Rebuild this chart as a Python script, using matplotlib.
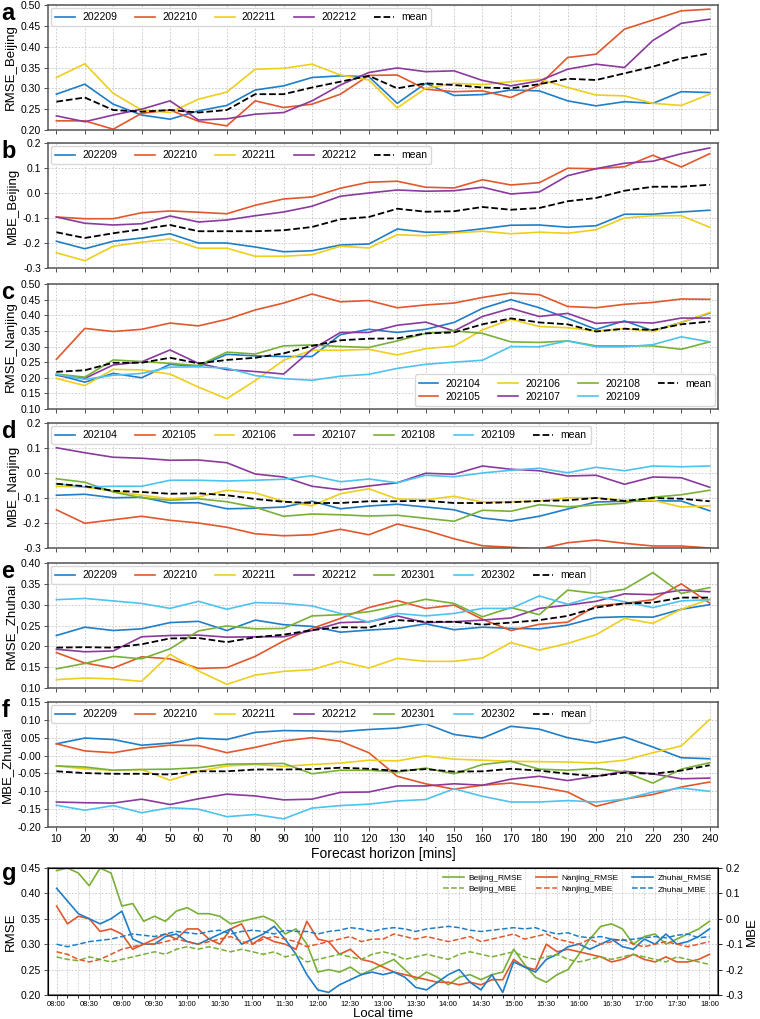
import numpy as np
import matplotlib
matplotlib.use('Agg')
import matplotlib.pyplot as plt
import matplotlib.dates as mdates
import pandas as pd

plt.rcParams['font.family'] = ['Liberation Sans', 'DejaVu Sans']

horizon = [10, 20, 30, 40, 50, 60, 70, 80, 90, 100, 110, 120,
           130, 140, 150, 160, 170, 180, 190, 200, 210, 220, 230, 240]

# Beijing months
bj_months = ['202209', '202210', '202211', '202212']
bj_rmse_202209 = [0.286, 0.310, 0.262, 0.236, 0.226, 0.246, 0.259, 0.296, 0.306, 0.326, 0.330, 0.328,
                  0.264, 0.312, 0.283, 0.285, 0.296, 0.294, 0.270, 0.258, 0.268, 0.264, 0.292, 0.290]
bj_rmse_202210 = [0.222, 0.222, 0.202, 0.240, 0.248, 0.221, 0.210, 0.270, 0.254, 0.262, 0.286, 0.331,
                  0.332, 0.298, 0.292, 0.294, 0.278, 0.308, 0.374, 0.382, 0.442, 0.464, 0.486, 0.490]
bj_rmse_202211 = [0.326, 0.359, 0.288, 0.248, 0.242, 0.274, 0.291, 0.346, 0.348, 0.358, 0.332, 0.320,
                  0.253, 0.300, 0.312, 0.309, 0.316, 0.322, 0.302, 0.284, 0.282, 0.264, 0.259, 0.286]
bj_rmse_202212 = [0.234, 0.220, 0.236, 0.250, 0.270, 0.224, 0.227, 0.238, 0.242, 0.270, 0.308, 0.338,
                  0.349, 0.340, 0.342, 0.319, 0.306, 0.318, 0.346, 0.358, 0.350, 0.415, 0.456, 0.466]
bj_rmse_mean = [0.268, 0.278, 0.248, 0.244, 0.248, 0.242, 0.248, 0.286, 0.286, 0.302, 0.316, 0.330,
                0.300, 0.312, 0.308, 0.302, 0.300, 0.310, 0.323, 0.320, 0.336, 0.352, 0.372, 0.384]

bj_mbe_202209 = [-0.193, -0.223, -0.193, -0.180, -0.163, -0.200, -0.200, -0.216, -0.235, -0.231, -0.208, -0.204,
                 -0.144, -0.157, -0.156, -0.143, -0.129, -0.128, -0.137, -0.131, -0.085, -0.085, -0.076, -0.069]
bj_mbe_202210 = [-0.096, -0.103, -0.103, -0.079, -0.072, -0.077, -0.083, -0.049, -0.024, -0.016, 0.019, 0.043,
                 0.047, 0.023, 0.020, 0.053, 0.032, 0.041, 0.099, 0.097, 0.105, 0.151, 0.104, 0.157]
bj_mbe_202211 = [-0.239, -0.271, -0.213, -0.197, -0.184, -0.221, -0.221, -0.253, -0.253, -0.247, -0.213, -0.220,
                 -0.167, -0.171, -0.160, -0.153, -0.163, -0.157, -0.161, -0.147, -0.100, -0.091, -0.091, -0.137]
bj_mbe_202212 = [-0.096, -0.121, -0.128, -0.123, -0.092, -0.116, -0.108, -0.091, -0.076, -0.053, -0.013, 0.000,
                 0.012, 0.007, 0.009, 0.023, -0.004, 0.004, 0.069, 0.097, 0.119, 0.127, 0.157, 0.180]
bj_mbe_mean = [-0.157, -0.180, -0.161, -0.145, -0.128, -0.153, -0.153, -0.153, -0.149, -0.136, -0.105, -0.096,
               -0.063, -0.075, -0.073, -0.056, -0.067, -0.060, -0.033, -0.020, 0.009, 0.025, 0.025, 0.033]

# Nanjing months
nj_months = ['202104', '202105', '202106', '202107', '202108', '202109']
nj_rmse_202104 = [0.210, 0.186, 0.214, 0.200, 0.243, 0.236, 0.275, 0.270, 0.268, 0.268, 0.338, 0.355,
                  0.345, 0.355, 0.377, 0.422, 0.450, 0.424, 0.390, 0.355, 0.382, 0.350, 0.377, 0.407]
nj_rmse_202105 = [0.259, 0.358, 0.348, 0.355, 0.375, 0.366, 0.387, 0.417, 0.439, 0.468, 0.443, 0.447,
                  0.424, 0.433, 0.439, 0.457, 0.471, 0.466, 0.428, 0.424, 0.435, 0.441, 0.452, 0.451]
nj_rmse_202106 = [0.198, 0.175, 0.227, 0.225, 0.212, 0.170, 0.133, 0.191, 0.256, 0.288, 0.288, 0.291,
                  0.273, 0.293, 0.301, 0.353, 0.387, 0.364, 0.360, 0.350, 0.357, 0.348, 0.377, 0.409]
nj_rmse_202107 = [0.208, 0.198, 0.241, 0.251, 0.289, 0.246, 0.226, 0.220, 0.212, 0.291, 0.345, 0.345,
                  0.368, 0.378, 0.350, 0.396, 0.422, 0.396, 0.406, 0.374, 0.379, 0.375, 0.391, 0.391]
nj_rmse_202108 = [0.212, 0.202, 0.257, 0.252, 0.246, 0.239, 0.282, 0.276, 0.302, 0.305, 0.300, 0.297,
                  0.318, 0.342, 0.350, 0.342, 0.315, 0.313, 0.318, 0.302, 0.302, 0.302, 0.291, 0.315]
nj_rmse_202109 = [0.211, 0.195, 0.208, 0.214, 0.234, 0.235, 0.231, 0.207, 0.197, 0.192, 0.205, 0.211,
                  0.230, 0.243, 0.250, 0.256, 0.300, 0.299, 0.318, 0.299, 0.299, 0.306, 0.331, 0.315]
nj_rmse_mean = [0.219, 0.224, 0.248, 0.248, 0.264, 0.246, 0.257, 0.264, 0.278, 0.302, 0.320, 0.325,
                0.326, 0.342, 0.345, 0.371, 0.390, 0.377, 0.371, 0.348, 0.357, 0.353, 0.371, 0.380]

nj_mbe_202104 = [-0.089, -0.085, -0.099, -0.097, -0.120, -0.119, -0.143, -0.141, -0.136, -0.113, -0.143, -0.132,
                 -0.125, -0.136, -0.147, -0.180, -0.192, -0.173, -0.144, -0.116, -0.113, -0.111, -0.112, -0.151]
nj_mbe_202105 = [-0.147, -0.201, -0.187, -0.173, -0.189, -0.200, -0.217, -0.243, -0.251, -0.247, -0.225, -0.247,
                 -0.204, -0.229, -0.263, -0.291, -0.297, -0.304, -0.279, -0.268, -0.281, -0.292, -0.292, -0.300]
nj_mbe_202106 = [-0.053, -0.056, -0.073, -0.089, -0.103, -0.096, -0.069, -0.080, -0.113, -0.131, -0.083, -0.063,
                 -0.104, -0.107, -0.093, -0.116, -0.115, -0.112, -0.099, -0.099, -0.109, -0.109, -0.136, -0.131]
nj_mbe_202107 = [0.101, 0.081, 0.063, 0.059, 0.051, 0.052, 0.041, -0.004, -0.016, -0.053, -0.067, -0.052,
                 -0.039, -0.001, -0.005, 0.028, 0.015, 0.009, -0.012, -0.009, -0.045, -0.016, -0.019, -0.057]
nj_mbe_202108 = [-0.023, -0.037, -0.076, -0.099, -0.109, -0.103, -0.115, -0.137, -0.173, -0.164, -0.167, -0.172,
                 -0.169, -0.181, -0.193, -0.149, -0.153, -0.127, -0.135, -0.128, -0.121, -0.097, -0.087, -0.069]
nj_mbe_202109 = [-0.043, -0.056, -0.053, -0.053, -0.029, -0.029, -0.032, -0.029, -0.025, -0.011, -0.035, -0.024,
                 -0.039, -0.009, -0.015, 0.000, 0.011, 0.019, 0.001, 0.023, 0.009, 0.028, 0.025, 0.028]
nj_mbe_mean = [-0.043, -0.053, -0.071, -0.076, -0.083, -0.081, -0.089, -0.104, -0.115, -0.120, -0.120, -0.113,
               -0.113, -0.111, -0.120, -0.120, -0.117, -0.112, -0.109, -0.100, -0.112, -0.100, -0.103, -0.113]

# Zhuhai months
zh_months = ['202209', '202210', '202211', '202212', '202301', '202302']
zh_rmse_202209 = [0.226, 0.246, 0.238, 0.242, 0.257, 0.260, 0.238, 0.263, 0.252, 0.248, 0.234, 0.239,
                  0.243, 0.254, 0.240, 0.246, 0.243, 0.242, 0.251, 0.269, 0.271, 0.270, 0.289, 0.300]
zh_rmse_202210 = [0.185, 0.160, 0.148, 0.175, 0.170, 0.147, 0.149, 0.176, 0.213, 0.243, 0.267, 0.293,
                  0.310, 0.291, 0.299, 0.265, 0.238, 0.253, 0.258, 0.297, 0.303, 0.312, 0.350, 0.304]
zh_rmse_202211 = [0.120, 0.124, 0.122, 0.116, 0.181, 0.141, 0.109, 0.131, 0.140, 0.144, 0.164, 0.148,
                  0.171, 0.164, 0.164, 0.172, 0.209, 0.191, 0.207, 0.228, 0.267, 0.255, 0.289, 0.313]
zh_rmse_202212 = [0.193, 0.187, 0.189, 0.223, 0.226, 0.227, 0.222, 0.223, 0.223, 0.238, 0.257, 0.259,
                  0.273, 0.257, 0.259, 0.263, 0.268, 0.291, 0.299, 0.308, 0.326, 0.324, 0.335, 0.331]
zh_rmse_202301 = [0.146, 0.159, 0.176, 0.170, 0.194, 0.237, 0.249, 0.242, 0.243, 0.273, 0.276, 0.283,
                  0.297, 0.313, 0.303, 0.271, 0.293, 0.276, 0.335, 0.327, 0.337, 0.377, 0.327, 0.341]
zh_rmse_202302 = [0.312, 0.315, 0.309, 0.303, 0.291, 0.308, 0.289, 0.305, 0.303, 0.297, 0.279, 0.258,
                  0.279, 0.273, 0.279, 0.291, 0.291, 0.321, 0.301, 0.320, 0.307, 0.293, 0.309, 0.312]
zh_rmse_mean = [0.197, 0.198, 0.197, 0.205, 0.219, 0.220, 0.210, 0.222, 0.228, 0.239, 0.246, 0.245,
                0.263, 0.259, 0.259, 0.252, 0.257, 0.263, 0.273, 0.293, 0.303, 0.305, 0.317, 0.317]

zh_mbe_202209 = [0.033, 0.049, 0.045, 0.029, 0.035, 0.049, 0.045, 0.065, 0.070, 0.069, 0.067, 0.073,
                 0.077, 0.089, 0.059, 0.049, 0.082, 0.074, 0.050, 0.036, 0.052, 0.024, -0.006, -0.009]
zh_mbe_202210 = [0.033, 0.013, 0.008, 0.021, 0.029, 0.028, 0.008, 0.023, 0.041, 0.050, 0.040, 0.008,
                 -0.058, -0.079, -0.094, -0.083, -0.077, -0.088, -0.102, -0.142, -0.122, -0.109, -0.088, -0.074]
zh_mbe_202211 = [-0.029, -0.037, -0.041, -0.039, -0.069, -0.044, -0.029, -0.025, -0.030, -0.025, -0.021, -0.013,
                 -0.015, -0.001, -0.010, -0.013, -0.016, -0.017, -0.018, -0.021, -0.013, 0.008, 0.027, 0.101]
zh_mbe_202212 = [-0.130, -0.132, -0.133, -0.122, -0.137, -0.121, -0.108, -0.113, -0.124, -0.122, -0.103, -0.102,
                 -0.085, -0.085, -0.079, -0.083, -0.066, -0.058, -0.070, -0.058, -0.044, -0.051, -0.065, -0.063]
zh_mbe_202301 = [-0.029, -0.032, -0.041, -0.039, -0.038, -0.034, -0.024, -0.023, -0.022, -0.051, -0.041, -0.041,
                 -0.046, -0.035, -0.051, -0.025, -0.016, -0.038, -0.041, -0.036, -0.046, -0.077, -0.038, -0.020]
zh_mbe_202302 = [-0.139, -0.153, -0.140, -0.160, -0.146, -0.150, -0.171, -0.165, -0.177, -0.147, -0.140, -0.136,
                 -0.127, -0.123, -0.093, -0.114, -0.130, -0.130, -0.126, -0.130, -0.122, -0.102, -0.091, -0.100]
zh_mbe_mean = [-0.044, -0.049, -0.051, -0.051, -0.053, -0.044, -0.044, -0.039, -0.039, -0.038, -0.034, -0.037,
               -0.043, -0.038, -0.045, -0.044, -0.037, -0.042, -0.051, -0.058, -0.048, -0.051, -0.042, -0.027]

# intraday curves, 10 min steps from 08:00 to 18:00
day_times = pd.date_range('2023-01-01 08:00', '2023-01-01 18:00', freq='10min')
bj_day_rmse = [0.445, 0.450, 0.440, 0.415, 0.450, 0.440, 0.375, 0.380, 0.345, 0.355, 0.345, 0.365, 0.372,
               0.360, 0.360, 0.355, 0.340, 0.345, 0.350, 0.355, 0.345, 0.320, 0.330, 0.300, 0.245, 0.250,
               0.245, 0.255, 0.240, 0.250, 0.260, 0.270, 0.250, 0.230, 0.245, 0.235, 0.220, 0.235, 0.240,
               0.230, 0.240, 0.245, 0.290, 0.260, 0.235, 0.225, 0.240, 0.250, 0.280, 0.310, 0.335, 0.340,
               0.330, 0.300, 0.315, 0.320, 0.300, 0.310, 0.320, 0.330, 0.345]
nj_day_rmse = [0.375, 0.340, 0.355, 0.350, 0.325, 0.330, 0.320, 0.290, 0.300, 0.310, 0.320, 0.310, 0.330,
               0.330, 0.310, 0.300, 0.330, 0.340, 0.300, 0.315, 0.305, 0.300, 0.290, 0.345, 0.310, 0.305,
               0.280, 0.290, 0.270, 0.265, 0.255, 0.245, 0.240, 0.235, 0.230, 0.225, 0.225, 0.220, 0.225,
               0.220, 0.230, 0.230, 0.270, 0.255, 0.250, 0.300, 0.285, 0.290, 0.285, 0.280, 0.275, 0.265,
               0.270, 0.280, 0.270, 0.265, 0.275, 0.265, 0.265, 0.270, 0.280]
zh_day_rmse = [0.410, 0.385, 0.360, 0.350, 0.340, 0.350, 0.365, 0.310, 0.300, 0.300, 0.315, 0.320, 0.305,
               0.300, 0.310, 0.320, 0.330, 0.300, 0.310, 0.320, 0.335, 0.310, 0.280, 0.240, 0.210, 0.205,
               0.220, 0.230, 0.240, 0.245, 0.240, 0.245, 0.235, 0.215, 0.210, 0.225, 0.240, 0.250, 0.225,
               0.210, 0.240, 0.205, 0.265, 0.255, 0.245, 0.270, 0.280, 0.295, 0.300, 0.290, 0.300, 0.310,
               0.295, 0.290, 0.310, 0.300, 0.320, 0.300, 0.305, 0.315, 0.330]
bj_day_mbe = [-0.15, -0.16, -0.165, -0.15, -0.16, -0.17, -0.16, -0.15, -0.14, -0.13, -0.14, -0.12, -0.11,
              -0.12, -0.11, -0.12, -0.13, -0.12, -0.13, -0.14, -0.13, -0.15, -0.14, -0.17, -0.16, -0.15,
              -0.14, -0.15, -0.16, -0.14, -0.13, -0.14, -0.16, -0.15, -0.14, -0.15, -0.16, -0.14, -0.13,
              -0.14, -0.15, -0.14, -0.13, -0.15, -0.16, -0.15, -0.14, -0.16, -0.17, -0.16, -0.15, -0.16,
              -0.15, -0.14, -0.15, -0.16, -0.17, -0.15, -0.16, -0.17, -0.18]
nj_day_mbe = [-0.13, -0.14, -0.16, -0.17, -0.16, -0.14, -0.12, -0.11, -0.10, -0.10, -0.09, -0.08, -0.09,
              -0.10, -0.09, -0.08, -0.07, -0.09, -0.10, -0.08, -0.07, -0.08, -0.09, -0.11, -0.10, -0.09,
              -0.08, -0.07, -0.09, -0.08, -0.08, -0.06, -0.07, -0.08, -0.07, -0.08, -0.09, -0.08, -0.07,
              -0.09, -0.08, -0.07, -0.06, -0.08, -0.07, -0.06, -0.08, -0.09, -0.10, -0.08, -0.10, -0.09,
              -0.08, -0.10, -0.11, -0.10, -0.09, -0.10, -0.11, -0.10, -0.09]
zh_day_mbe = [-0.10, -0.11, -0.10, -0.09, -0.085, -0.08, -0.07, -0.06, -0.065, -0.07, -0.06, -0.05, -0.055,
              -0.06, -0.05, -0.045, -0.06, -0.05, -0.045, -0.05, -0.06, -0.045, -0.05, -0.05, -0.06, -0.05,
              -0.045, -0.035, -0.04, -0.05, -0.04, -0.035, -0.04, -0.05, -0.04, -0.035, -0.03, -0.035, -0.045,
              -0.05, -0.045, -0.04, -0.035, -0.04, -0.035, -0.05, -0.06, -0.055, -0.07, -0.075, -0.07, -0.08,
              -0.085, -0.08, -0.075, -0.07, -0.075, -0.065, -0.06, -0.075, -0.07]

month_colors = ['#1F7EC7', '#E2572B', '#EDCF1C', '#8A3A9C', '#79B035', '#4DC3F0']
c_bj, c_nj, c_zh = '#79B035', '#E2572B', '#1F7EC7'

fig = plt.figure(figsize=(7.6, 10.19), dpi=100)
L, W, H = 0.063, 0.882, 0.1227
bottoms = [0.8724, 0.737, 0.5986, 0.4622, 0.3248, 0.1884]


def style_axes(ax):
    ax.grid(True, color='#c4c4c4', linestyle=(0, (2, 2)), linewidth=0.6)
    ax.tick_params(labelsize=7.5, length=3, width=0.6, color='#333333', pad=2)
    for s in ax.spines.values():
        s.set_color('#555555')
        s.set_linewidth(1.1)


def panel(bottom, letter, ylabel, series, labels, mean, ylim, yticks, fmt,
          show_x=False, leg_loc='upper left', ncol=None):
    ax = fig.add_axes([L, bottom, W, H])
    for i, (vals, lab) in enumerate(zip(series, labels)):
        ax.plot(horizon, vals, color=month_colors[i], lw=1.2, label=lab)
    ax.plot(horizon, mean, color='black', lw=1.3, ls='--', label='mean')
    ax.set_xlim(7, 243)
    ax.set_ylim(*ylim)
    ax.set_yticks(yticks)
    ax.yaxis.set_major_formatter(plt.FormatStrFormatter(fmt))
    ax.set_xticks(horizon)
    if not show_x:
        ax.tick_params(labelbottom=False)
    ax.set_ylabel(ylabel, fontsize=9.5, labelpad=3)
    style_axes(ax)
    ax.legend(loc=leg_loc, ncol=ncol or len(labels) + 1, fontsize=7.5, handlelength=1.9,
              handletextpad=0.7, columnspacing=1.7, borderpad=0.4, labelspacing=0.3,
              framealpha=1, edgecolor='#d8d8d8', borderaxespad=0.3)
    fig.text(0.002, bottom + H + 0.003, letter, fontsize=17, fontweight='bold', va='top')
    return ax


panel(bottoms[0], 'a', 'RMSE_Beijing',
      [bj_rmse_202209, bj_rmse_202210, bj_rmse_202211, bj_rmse_202212], bj_months, bj_rmse_mean,
      (0.20, 0.50), np.arange(0.20, 0.501, 0.05), '%.2f')
panel(bottoms[1], 'b', 'MBE_Beijing',
      [bj_mbe_202209, bj_mbe_202210, bj_mbe_202211, bj_mbe_202212], bj_months, bj_mbe_mean,
      (-0.3, 0.2), np.arange(-0.3, 0.201, 0.1), '%.1f')
panel(bottoms[2], 'c', 'RMSE_Nanjing',
      [nj_rmse_202104, nj_rmse_202105, nj_rmse_202106, nj_rmse_202107, nj_rmse_202108, nj_rmse_202109],
      nj_months, nj_rmse_mean, (0.10, 0.50), np.arange(0.10, 0.501, 0.05), '%.2f',
      leg_loc='lower right', ncol=4)
panel(bottoms[3], 'd', 'MBE_Nanjing',
      [nj_mbe_202104, nj_mbe_202105, nj_mbe_202106, nj_mbe_202107, nj_mbe_202108, nj_mbe_202109],
      nj_months, nj_mbe_mean, (-0.3, 0.2), np.arange(-0.3, 0.201, 0.1), '%.1f')
panel(bottoms[4], 'e', 'RMSE_Zhuhai',
      [zh_rmse_202209, zh_rmse_202210, zh_rmse_202211, zh_rmse_202212, zh_rmse_202301, zh_rmse_202302],
      zh_months, zh_rmse_mean, (0.10, 0.40), np.arange(0.10, 0.401, 0.05), '%.2f')
axf = panel(bottoms[5], 'f', 'MBE_Zhuhai',
            [zh_mbe_202209, zh_mbe_202210, zh_mbe_202211, zh_mbe_202212, zh_mbe_202301, zh_mbe_202302],
            zh_months, zh_mbe_mean, (-0.20, 0.15), np.arange(-0.20, 0.151, 0.05), '%.2f', show_x=True)
axf.set_xlabel('Forecast horizon [mins]', fontsize=10, labelpad=2)

# panel g
gb, gh = 0.0236, 0.1246
axg = fig.add_axes([L, gb, W, gh])
h1, = axg.plot(day_times, bj_day_rmse, color=c_bj, lw=1.2)
h2, = axg.plot(day_times, nj_day_rmse, color=c_nj, lw=1.2)
h3, = axg.plot(day_times, zh_day_rmse, color=c_zh, lw=1.2)
axg.set_ylim(0.20, 0.45)
axg.set_yticks(np.arange(0.20, 0.451, 0.05))
axg.yaxis.set_major_formatter(plt.FormatStrFormatter('%.2f'))
axg.set_ylabel('RMSE', fontsize=9.5, labelpad=3)
axg.set_xlim(day_times[0] - pd.Timedelta(minutes=8), day_times[-1] + pd.Timedelta(minutes=8))
axg.xaxis.set_major_locator(mdates.MinuteLocator(byminute=[0, 30]))
axg.xaxis.set_minor_locator(mdates.MinuteLocator(byminute=range(0, 60, 10)))
axg.xaxis.set_major_formatter(mdates.DateFormatter('%H:%M'))
style_axes(axg)
axg.grid(True, which='minor', axis='x', color='#c4c4c4', linestyle=(0, (2, 2)), linewidth=0.5)
axg.tick_params(axis='x', labelsize=5.5, pad=1.5)
axg.set_xlabel('Local time', fontsize=9.5, labelpad=0)

axm = axg.twinx()
h4, = axm.plot(day_times, bj_day_mbe, color=c_bj, lw=1.1, ls='--')
h5, = axm.plot(day_times, nj_day_mbe, color=c_nj, lw=1.1, ls='--')
h6, = axm.plot(day_times, zh_day_mbe, color=c_zh, lw=1.1, ls='--')
axm.set_ylim(-0.3, 0.2)
axm.set_yticks(np.arange(-0.3, 0.201, 0.1))
axm.yaxis.set_major_formatter(plt.FormatStrFormatter('%.1f'))
axm.set_ylabel('MBE', fontsize=9.5, labelpad=2)
axm.tick_params(labelsize=7.5, length=3, width=0.6, pad=2)
axm.legend([h1, h4, h2, h5, h3, h6],
           ['Beijing_RMSE', 'Beijing_MBE', 'Nanjing_RMSE', 'Nanjing_MBE', 'Zhuhai_RMSE', 'Zhuhai_MBE'],
           loc='upper right', ncol=3, fontsize=6, frameon=False, handlelength=2.5,
           handletextpad=0.6, columnspacing=1.6, labelspacing=0.4, borderaxespad=0.3)
fig.text(0.002, gb + gh + 0.006, 'g', fontsize=17, fontweight='bold', va='top')

fig.savefig('out.png', dpi=100)
